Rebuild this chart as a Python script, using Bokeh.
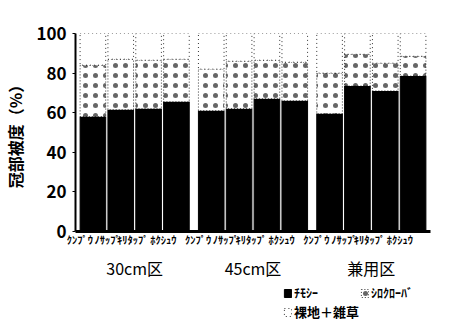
from bokeh.plotting import figure
from bokeh.layouts import column
from bokeh.models import FactorRange, Legend, LegendItem, Range1d, SingleIntervalTicker, CategoricalAxis
from bokeh.embed import file_html
from bokeh.resources import INLINE

groups = ["30cm区", "45cm区", "兼用区"]
cultivars = ["ｸﾝﾌﾟｳ", "ﾉｻｯﾌﾟ", "ｷﾘﾀｯﾌﾟ", "ﾎｸｼｭｳ"]
timothy = [58, 61.5, 62, 65.5, 61, 62, 67, 66, 59.5, 73.5, 71, 78.5]
clover = [26, 25.5, 24.5, 21.5, 21, 24, 19.5, 19.5, 20.5, 16, 14, 10]
bare = [16, 13, 13.5, 13, 18, 14, 13.5, 14.5, 20, 10.5, 15, 11.5]
series_names = ["ﾁﾓｼｰ", "ｼﾛｸﾛｰﾊﾞ", "裸地＋雑草"]

factors = [(g, c) for g in groups for c in cultivars]
data = dict(x=factors, timothy=timothy, clover=clover, bare=bare)

FONT = "Noto Sans CJK JP"
styles = dict(fill_color=["black", "white", "white"],
              line_color=["black", "black", "black"],
              line_width=[1, 0.8, 0.8],
              line_dash=["solid", "1 2", "1 3"],
              hatch_pattern=[None, ".", None])
hatch = dict(hatch_color="black", hatch_scale=10, hatch_weight=0.5, hatch_alpha=0.6)

xr = FactorRange(*factors, group_padding=0.25, range_padding=0.02)
yr = Range1d(0, 100)
p = figure(width=451, height=284, x_range=xr, y_range=yr,
           output_backend="svg", toolbar_location=None,
           min_border_left=10, min_border_right=21, min_border_top=33, min_border_bottom=53)
p.extra_x_ranges = {"groups": FactorRange(*groups, range_padding=0.0)}

rs = p.vbar_stack(["timothy", "clover", "bare"], x="x", width=0.92, source=data, **styles, **hatch)

p.outline_line_color = None
p.grid.visible = False
p.background_fill_color = "white"
p.border_fill_color = "white"

p.yaxis.ticker = SingleIntervalTicker(interval=20)
p.yaxis.axis_line_width = 2
p.yaxis.axis_line_color = "black"
p.yaxis.major_tick_out = 3
p.yaxis.major_tick_in = 0
p.yaxis.minor_tick_line_color = None
p.yaxis.major_label_text_font = FONT
p.yaxis.major_label_text_font_size = "17px"
p.yaxis.major_label_text_font_style = "bold"
p.yaxis.major_label_text_color = "black"
p.yaxis.axis_label = "冠部被度（%）"
p.yaxis.axis_label_text_font = FONT
p.yaxis.axis_label_text_font_size = "16px"
p.yaxis.axis_label_text_font_style = "bold"
p.yaxis.axis_label_text_color = "black"
p.yaxis.axis_label_standoff = 6

p.xaxis.axis_line_width = 3
p.xaxis.axis_line_color = "black"
p.xaxis.major_tick_line_color = None
p.xaxis.minor_tick_line_color = None
p.xaxis.major_label_text_font = FONT
p.xaxis.major_label_text_font_size = "10.5px"
p.xaxis.major_label_text_font_style = "bold"
p.xaxis.major_label_text_color = "black"
p.xaxis.major_label_orientation = 0
p.xaxis.major_label_standoff = 2
p.xaxis.group_text_color = None
p.xaxis.separator_line_color = None

gaxis = CategoricalAxis(x_range_name="groups", axis_line_color=None,
                        major_tick_line_color=None, minor_tick_line_color=None,
                        major_label_text_font=FONT, major_label_text_font_size="16px",
                        major_label_text_color="black", major_label_standoff=-8)
p.add_layout(gaxis, "below")

# legend strip below the chart (same data, hidden bars, only the legend shows)
q = figure(width=451, height=38, x_range=xr, y_range=yr,
           output_backend="svg", toolbar_location=None,
           x_axis_location=None, y_axis_location=None,
           min_border_left=10, min_border_right=21, min_border_top=0, min_border_bottom=0)
q.outline_line_color = None
q.grid.visible = False
q.background_fill_color = "white"
q.border_fill_color = "white"
hidden = q.vbar_stack(["timothy", "clover", "bare"], x="x", width=0.92, source=data, **styles, **hatch)
for r in hidden:
    r.visible = False

common = dict(label_text_font=FONT, label_text_font_style="bold",
              label_text_color="black", glyph_width=9, glyph_height=10, spacing=2,
              padding=0, margin=0, label_standoff=2, border_line_color=None,
              background_fill_alpha=0)
legend1 = Legend(items=[LegendItem(label=series_names[i], renderers=[hidden[i]]) for i in (0, 1)],
                 location=(208, 21), orientation="horizontal", label_width=64,
                 label_text_font_size="12px", **common)
legend2 = Legend(items=[LegendItem(label=series_names[2], renderers=[hidden[2]])],
                 location=(208, 1), orientation="horizontal",
                 label_text_font_size="13px", **common)
q.add_layout(legend1, "center")
q.add_layout(legend2, "center")

layout = column(p, q, spacing=0)
open("out.html", "w").write(file_html(layout, INLINE))
